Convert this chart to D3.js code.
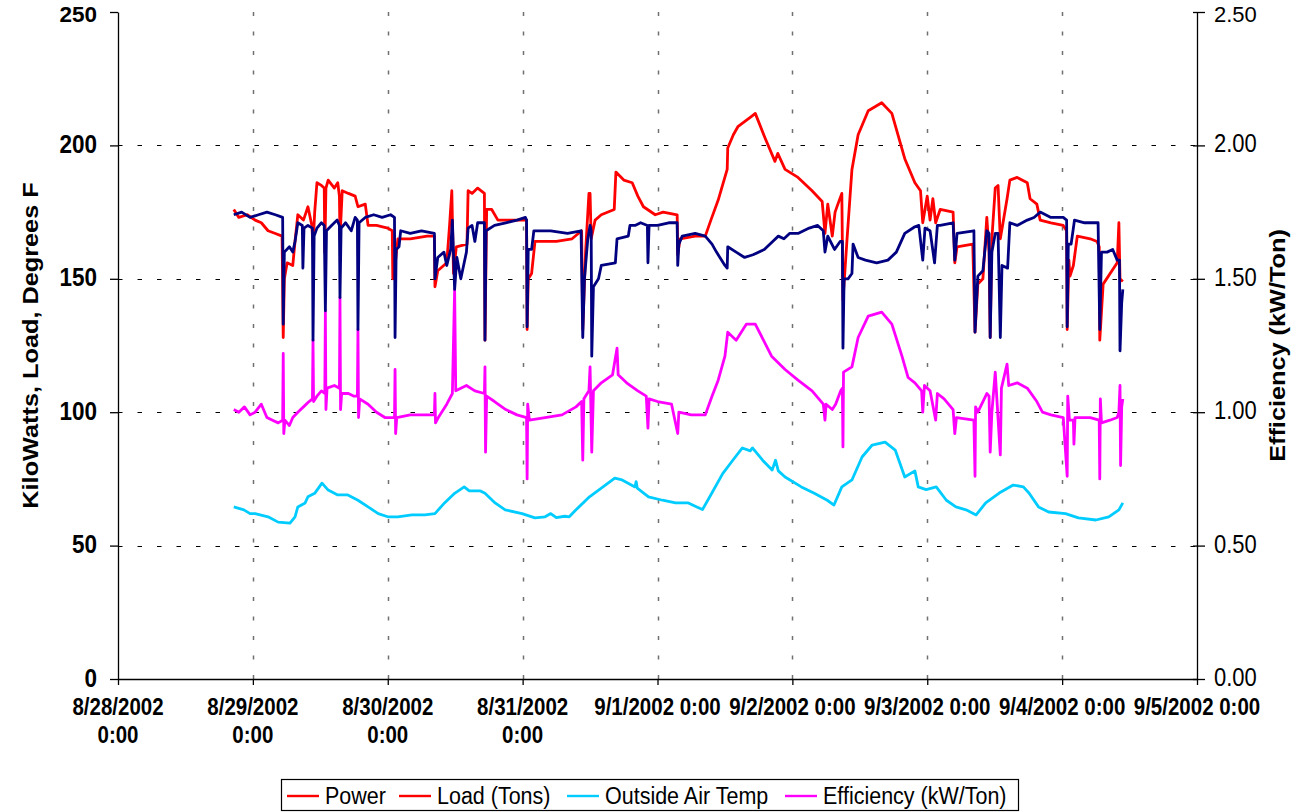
<!DOCTYPE html>
<html>
<head>
<meta charset="utf-8">
<script src="https://cdn.jsdelivr.net/npm/d3@7"></script>
<style>
  html, body { margin: 0; padding: 0; background: #fff; }
  svg { display: block; }
  text { font-family: Arial, "Liberation Sans", sans-serif; }
</style>
</head>
<body>
<svg id="chart" width="1294" height="812"></svg>
<script>
// ---------------- DATA ----------------
// hours since 8/28/2002 0:00 , value
const power = [
 [20.6,176],[21.5,173],[23,174],[24.4,172],[25.5,171],[26.7,168],[28,167],[29.2,166],[29.4,128],[29.6,150],[30.1,156],[31.1,155],[31.5,164],[32.0,174],[33,172],[33.8,177],[34.5,170],[34.7,162],[35.0,175],[35.4,186],[36.2,185],[36.7,184],[36.8,160],[37.0,184],[37.4,187],[38.5,184],[39.1,186],[39.4,181],[39.5,165],[39.9,183],[41,182],[42.2,181],[42.7,177],[44,178],[44.5,170],[46,170],[48.0,169],[48.8,168],[48.9,150],[49.3,155],[49.8,165],[52,165],[55,166],[56.3,166],[56.4,147],[56.9,153],[58.5,156],[59.0,170],[59.4,183],[59.7,152],[60.2,162],[62.1,163],[62.3,183],[63,182],[64,184],[65.2,182],[65.3,127],[65.6,176],[66.5,176],[67.6,172],[70,172],[71.9,172],[72.7,172],[72.8,131],[73.0,150],[73.6,152],[74.2,164],[78,164],[80.8,165],[82.5,168],[82.7,131],[83.2,160],[83.8,182],[84.0,182],[84.2,165],[84.9,172],[86,174],[88.3,176],[88.6,190],[90,187],[91.5,186],[92.5,181],[93.5,177],[95.6,174],[97,175],[99.5,174],[99.6,159],[100.0,165],[102.7,166],[104.5,166],[105.5,172],[106.8,179.5],[108.4,191],[108.5,199],[109.5,204],[110.3,207],[112.8,211],[113.4,212],[115.1,203],[116.9,194],[117.4,197],[118.7,191],[121.0,188],[123.5,183],[125.3,179],[125.8,167],[126.3,178],[127.1,166],[127.6,175],[128.1,178],[128.8,182],[129.0,142],[129.7,164],[130.6,191],[131.7,204],[133.5,213],[135.9,216],[137.7,212],[140.0,195],[141.8,186],[142.8,183],[143.2,171],[144.0,181],[144.5,172],[145.0,180],[145.5,171],[146.3,176],[148.6,175],[148.9,156],[149.3,162],[152.1,163],[152.5,130],[153.0,148],[153.9,150],[154.6,173],[155.0,160],[155.2,128],[155.5,165],[156.1,184],[156.6,185],[157.0,165],[157.4,170],[158.2,180],[158.7,187],[160,188],[161.8,186],[162.3,180],[163.5,178],[164.1,172],[166,171],[168.2,170],[168.8,168],[168.9,131],[169.2,157],[169.4,151],[170.0,155],[170.7,166],[173,165],[174.2,164],[174.6,162],[174.7,127],[175.3,148],[177.8,156],[178.1,171],[178.3,150],[178.8,149]
];
const load = [
 [20.6,174],[22,175],[23.5,173],[25,174],[26.5,175],[28,174],[29.3,173],[29.4,133],[29.6,160],[30.5,162],[31.1,160],[31.5,164],[32.0,171],[32.8,170],[32.9,154],[33.1,169],[33.8,170],[34.6,169],[34.7,127],[34.9,166],[35.4,169],[36.2,171],[36.7,170],[36.9,138],[37.1,168],[38.0,170],[39.0,172],[39.4,170],[39.5,143],[39.7,169],[40.5,171],[41.5,168],[42.2,173],[42.6,172],[42.7,131],[42.9,171],[44,173],[45.5,174],[47,173],[48.5,174],[49.2,173],[49.3,128],[49.5,161],[50.0,162],[50.3,168],[52,167],[54,168],[56.3,167],[56.4,150],[56.9,158],[58.0,160],[58.5,155],[59.2,161],[59.5,172],[59.9,146],[60.3,158],[61.0,150],[62.0,160],[62.3,169],[63,170],[63.5,164],[64,171],[65.2,171],[65.3,127],[65.5,168],[67,170],[69,171],[71,172],[72.5,173],[72.7,172],[72.8,132],[73.0,161],[73.6,161],[74,168],[77,168],[80,167],[82.4,168],[82.7,128],[83.0,150],[83.6,165],[84.0,170],[84.2,168],[84.3,121],[84.6,147],[85.5,150],[86.0,155],[88.5,156],[88.8,165],[90.8,166],[91.1,170],[92,170],[93,171],[94.2,170],[94.3,156],[94.5,170],[96,170],[98,171],[99.5,171],[99.6,155],[99.8,163],[100.4,166],[102.7,167],[104.5,166],[105.7,163],[106.5,160],[108.0,155],[108.4,154],[108.5,162],[110,160],[111.5,158],[113,159],[115,161],[116.5,164],[117.5,166],[118.5,165],[119.5,167],[121,167],[123,169],[124.5,170],[125.5,168],[125.8,160],[126.3,166],[127.5,161],[128.5,164],[128.9,164],[129.0,124],[129.2,150],[129.9,150],[130.6,152],[130.8,163],[131.7,158],[133,157],[135,156],[137,157],[138.5,160],[140,167],[141.8,169.5],[142.5,170],[143.2,157],[143.6,169],[144.5,168],[145.3,156],[145.8,170],[146.3,170],[148.6,171],[148.9,157],[149.3,167],[152.3,168],[152.5,130],[153.0,151],[153.9,153],[154.6,168],[155.0,167],[155.2,128],[155.5,160],[156.1,167],[156.6,167],[157.0,128],[157.3,155],[158.3,154],[158.7,171],[160,170],[161.8,172],[163,173],[164.1,175],[166,173],[168.2,173],[168.8,172],[168.9,132],[169.1,163],[169.6,163],[170.2,172],[172,171],[174.4,171],[174.7,131],[175.0,160],[176,160],[177,161],[177.8,157],[178.2,157],[178.3,123],[178.6,141],[178.8,146]
];
const outsideAirTemp = [
 [20.6,64.5],[22.4,63.4],[23.5,62],[24.4,62],[26.7,60.8],[28.5,58.8],[30.6,58.4],[31.5,60.8],[32,64.5],[33.3,66],[33.8,68.3],[35,69.6],[36.3,73.4],[37.4,70.8],[39.1,69],[40.9,69],[42.7,67],[44.5,64.5],[46.3,62],[48,60.8],[49.8,60.8],[52.3,61.5],[54.6,61.5],[56.4,62],[58.1,66],[59.9,69.6],[61.6,72],[62.5,70.5],[64.5,70.5],[65.3,69.6],[67.1,66],[68.9,63.4],[71.9,62],[74.2,60.4],[76,60.8],[77,62],[78,60.5],[79.5,61],[80.3,60.8],[81.5,63.4],[83.9,68.3],[86.3,72],[88.4,75.3],[89.7,74.6],[92,72],[92.2,74],[92.4,71.5],[94.4,68.3],[96.9,67],[99.2,66],[101.5,66],[103,64.5],[104,63.5],[105.3,68.3],[107.6,77],[109.4,82],[111.1,86.6],[112.5,85.5],[112.9,86.6],[114.7,82],[116.4,78.3],[117.0,82],[117.5,78],[118.7,75.7],[121.6,72],[123.9,69.6],[126.2,67],[127.4,65.2],[128.8,72],[130.6,74.6],[132.4,83.2],[134.2,87.7],[136.5,88.8],[138.3,85.8],[140,75.7],[141.8,78],[142.4,72],[143.8,71],[145.6,72],[147.4,67],[149.1,64.5],[150.9,63.4],[152.7,61.5],[154.4,66],[156.8,69.7],[159.3,72.7],[161.1,72],[162.1,69.7],[163.8,64.5],[165.6,62.6],[168.6,62],[170.9,60.4],[174,59.6],[176.3,60.8],[178.1,63.4],[178.8,66]
];
const efficiency = [
 [20.6,1.01],[21.5,1.00],[22.5,1.02],[23.5,0.99],[24.4,1.0],[25.5,1.03],[26.5,0.98],[27.5,0.97],[28.5,0.96],[29.3,0.97],[29.4,1.22],[29.5,0.92],[29.7,0.97],[30.5,0.95],[31.1,0.98],[32,1.0],[33,1.02],[34,1.04],[34.6,1.05],[34.7,1.27],[34.8,1.04],[35.4,1.06],[36.2,1.08],[36.8,1.07],[36.9,1.38],[37.0,1.01],[37.2,1.09],[38.5,1.10],[39.4,1.09],[39.5,1.43],[39.6,1.01],[39.8,1.07],[41,1.07],[42,1.06],[42.6,1.06],[42.7,1.31],[42.8,0.98],[43,1.05],[44.5,1.03],[46,1.0],[47.5,0.98],[49.2,0.98],[49.3,1.16],[49.4,0.92],[49.6,0.98],[52,0.99],[55,0.99],[56.3,0.99],[56.4,1.07],[56.5,0.96],[57,0.98],[58.5,1.03],[59.5,1.07],[59.9,1.46],[60.1,1.08],[61,1.09],[62,1.10],[63.5,1.08],[65.2,1.07],[65.3,1.17],[65.4,0.85],[65.6,1.06],[67,1.04],[69,1.01],[71,0.99],[72.7,0.98],[72.8,0.75],[72.9,1.03],[73.2,0.97],[76,0.98],[79,0.99],[81.5,1.02],[82.5,1.04],[82.7,0.82],[82.9,1.05],[83.8,1.08],[84.0,1.17],[84.3,0.85],[84.6,1.08],[86,1.11],[88,1.14],[88.8,1.24],[89,1.14],[90.5,1.11],[92.5,1.08],[94,1.06],[94.3,0.94],[94.5,1.05],[96,1.04],[98.5,1.03],[99.6,0.92],[99.8,1.0],[102,0.99],[104.5,0.99],[105.7,1.06],[106.8,1.12],[108,1.21],[108.5,1.30],[110,1.27],[111.8,1.33],[113.4,1.33],[115.1,1.26],[116.3,1.21],[118.7,1.16],[121,1.12],[123.5,1.08],[125.5,1.03],[125.8,0.97],[126,1.03],[127.1,1.01],[127.7,1.03],[128.6,1.08],[128.9,1.09],[129.0,0.87],[129.1,1.15],[130.6,1.17],[131.7,1.28],[133.5,1.36],[135.9,1.375],[137.7,1.33],[139.5,1.21],[140.6,1.13],[141.8,1.11],[143.0,1.08],[143.2,1.0],[143.5,1.10],[144.5,1.08],[145.5,0.97],[145.8,1.07],[147,1.05],[148.6,1.01],[148.9,0.92],[149.2,0.98],[152.3,0.97],[152.5,0.76],[152.6,1.02],[153.0,1.0],[154.6,1.07],[155.0,1.06],[155.2,0.85],[155.5,1.0],[156.1,1.15],[156.3,1.08],[157.0,0.84],[157.2,1.09],[158.2,1.18],[158.5,1.10],[160,1.11],[161.8,1.09],[163.5,1.04],[164.5,1.0],[166,0.99],[168.2,0.98],[168.9,0.76],[169.0,1.06],[169.3,0.97],[170,0.97],[170.1,0.88],[170.3,0.98],[173,0.98],[174.6,0.97],[174.7,0.75],[174.8,1.05],[175.0,0.96],[176.5,0.97],[177.8,0.98],[178.1,1.00],[178.3,1.10],[178.4,0.80],[178.6,1.02],[178.8,1.05]
];
const leftTicks = [0, 50, 100, 150, 200, 250];
const rightTicks = [0, 0.5, 1.0, 1.5, 2.0, 2.5];
const xTickLabels = ["8/28/2002 0:00","8/29/2002 0:00","8/30/2002 0:00","8/31/2002 0:00","9/1/2002 0:00","9/2/2002 0:00","9/3/2002 0:00","9/4/2002 0:00","9/5/2002 0:00"];
const seriesNames = ["Power","Load (Tons)","Outside Air Temp","Efficiency (kW/Ton)"];
const legendColors = ["#FF0000","#FF0000","#00CCFF","#FF00FF"];

// ---------------- CHART ----------------
const svg = d3.select("#chart");
const L = 118, R = 1197, T = 12, B = 679;
const SY = 1.15; // vertical stretch of the original text
const t0 = new Date(2002, 7, 28, 0, 0);
const t1 = new Date(2002, 8, 5, 0, 0);
const toDate = h => new Date(t0.getTime() + h * 3600000);

const x = d3.scaleTime().domain([t0, t1]).range([L, R]);
const yL = d3.scaleLinear().domain([0, 250]).range([B, T]);
const yR = d3.scaleLinear().domain([0, 2.5]).range([B, T]);
const days = d3.timeDay.range(t0, d3.timeDay.offset(t1, 1));

function label(parent, px, py, txt, font, anchor, rot, sy) {
  const s = sy === undefined ? SY : sy;
  const gg = parent.append("g").attr("transform", `translate(${px},${py}) scale(1,${s})` + (rot ? ` rotate(${rot})` : ""));
  return gg.append("text").attr("text-anchor", anchor).style("font", font).attr("fill", "#000").text(txt);
}

// grid
svg.append("g").selectAll("line").data(days.filter((d,i)=>i>0 && i<days.length-1)).join("line")
  .attr("x1", d=>Math.round(x(d))+0.5).attr("x2", d=>Math.round(x(d))+0.5)
  .attr("y1", T).attr("y2", B)
  .attr("stroke", "#707070").attr("stroke-width", 1.5).attr("stroke-dasharray", "4,15.5");
svg.append("g").selectAll("line").data(leftTicks.filter(v=>v>0 && v<250)).join("line")
  .attr("x1", L).attr("x2", R)
  .attr("y1", d=>Math.round(yL(d))+0.5).attr("y2", d=>Math.round(yL(d))+0.5)
  .attr("stroke", "#000").attr("stroke-width", 1).attr("stroke-dasharray", "4.5,15");

// series
const lineL = d3.line().x(d=>x(toDate(d[0]))).y(d=>yL(d[1]));
const lineR = d3.line().x(d=>x(toDate(d[0]))).y(d=>yR(d[1]));
const g = svg.append("g").attr("fill","none").attr("stroke-width",2.8).attr("stroke-linejoin","round");
g.append("path").attr("d", lineR(efficiency)).attr("stroke", "#FF00FF");
g.append("path").attr("d", lineL(outsideAirTemp)).attr("stroke", "#00CCFF");
g.append("path").attr("d", lineL(power)).attr("stroke", "#FF0000");
g.append("path").attr("d", lineL(load)).attr("stroke", "#000080");

// axes (lines and ticks)
const axL = svg.append("g").attr("transform", `translate(${L},0)`)
  .call(d3.axisLeft(yL).tickValues(leftTicks).tickSize(8).tickSizeOuter(0).tickFormat(""));
const axR = svg.append("g").attr("transform", `translate(${R},0)`)
  .call(d3.axisRight(yR).tickValues(rightTicks).tickSize(8).tickSizeOuter(0).tickFormat(""));
axR.selectAll(".tick line").attr("x1", -4);
const axB = svg.append("g").attr("transform", `translate(0,${B})`)
  .call(d3.axisBottom(x).tickValues(days).tickSize(6).tickSizeOuter(0).tickFormat(""));
[axL, axR, axB].forEach(a => { a.selectAll("path,line").attr("stroke","#000").attr("stroke-width",1.3); });

// tick labels (top labels kept fully inside the picture)
const labels = svg.append("g");
const fL = "bold 22.5px Arial, 'Liberation Sans', sans-serif";
const fR = "22px Arial, 'Liberation Sans', sans-serif";
leftTicks.forEach(v => {
  const top = v === 250;
  label(labels, 97, top ? 21.5 : yL(v) + 7.5, d3.format("d")(v), fL, "end", 0, top ? 1 : SY);
});
rightTicks.forEach(v => {
  const top = v === 2.5;
  label(labels, 1214, top ? 21.5 : yR(v) + 7, d3.format(".2f")(v), fR, "start", 0, top ? 1 : SY);
});

const fontBold = "bold 20.5px Arial, 'Liberation Sans', sans-serif";
days.forEach((d, i) => {
  const t = label(labels, x(d), 715, xTickLabels[i], fontBold, "middle");
  if (t.node().getComputedTextLength() > 134) {
    const parts = xTickLabels[i].split(" ");
    t.text(parts[0]);
    label(labels, x(d), 743, parts[1], fontBold, "middle");
  }
});

// axis titles
label(svg, 38, (T+B)/2, "KiloWatts, Load, Degrees F", "bold 22px Arial, 'Liberation Sans', sans-serif", "middle", -90);
label(svg, 1285, (T+B)/2, "Efficiency (kW/Ton)", "bold 22px Arial, 'Liberation Sans', sans-serif", "middle", -90);

// legend
const lg = svg.append("g");
lg.append("rect").attr("x",281.5).attr("y",779.5).attr("width",737).attr("height",31)
  .attr("fill","#fff").attr("stroke","#000").attr("stroke-width",1.2);
const legX = [287, 399, 567, 785];
seriesNames.forEach((n,i)=>{
  lg.append("line").attr("x1",legX[i]).attr("x2",legX[i]+32).attr("y1",796).attr("y2",796)
    .attr("stroke",legendColors[i]).attr("stroke-width",2.4);
  label(lg, legX[i]+38, 803.5, n, "21.5px Arial, 'Liberation Sans', sans-serif", "start");
});
</script>
</body>
</html>
